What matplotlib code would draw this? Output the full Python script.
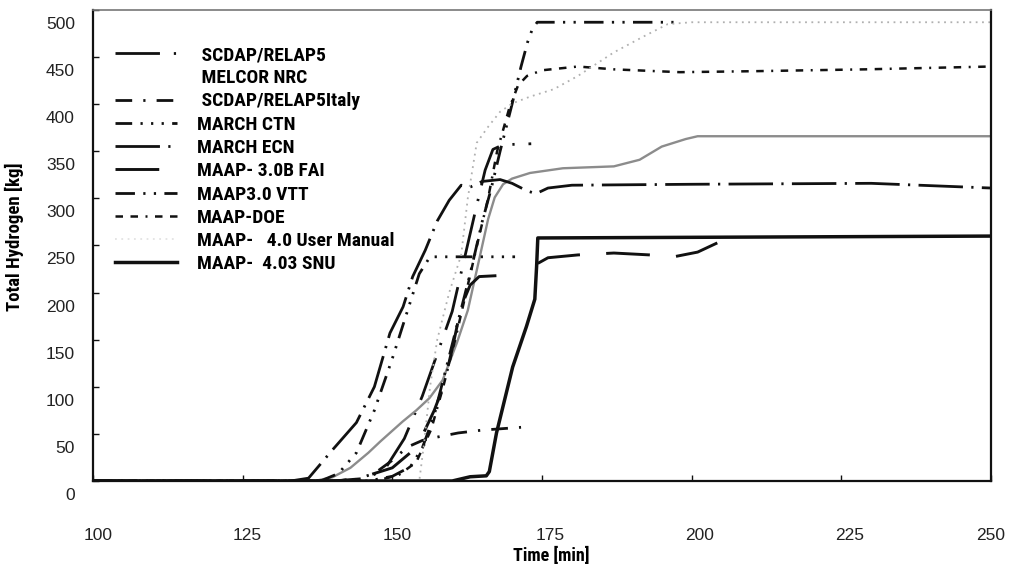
import numpy as np
import matplotlib
matplotlib.use("Agg")
import matplotlib.pyplot as plt
from matplotlib import font_manager as fm
from matplotlib.transforms import ScaledTranslation
from matplotlib.lines import Line2D

# ---------------- data ----------------
labels = [" SCDAP/RELAP5", " MELCOR NRC", " SCDAP/RELAP5Italy", "MARCH CTN",
          "MARCH ECN", "MAAP- 3.0B FAI", "MAAP3.0 VTT", "MAAP-DOE",
          "MAAP-   4.0 User Manual", "MAAP-  4.03 SNU"]

t_scdap = [100, 140, 146, 149, 152, 155, 157.5, 160, 162, 164, 165.5, 166.8, 168.5, 173.2]
h_scdap = [0, 0, 3, 15, 45, 90, 135, 180, 235, 290, 330, 352, 357, 358]

t_melcor = [100, 137, 140, 143, 146, 148, 151.7, 154, 156.2, 158.4, 160.8, 162.6, 164.5,
            166, 167.1, 168.5, 170, 173, 178.5, 187, 191.3, 195, 199, 201, 250]
h_melcor = [0, 0, 4, 14, 30, 42, 63, 75, 88, 107, 147, 181, 235,
            278, 301, 315, 321, 327, 332, 334, 341, 355, 363, 366, 366]

t_italy = [100, 143, 147, 150, 152.5, 155, 157, 161, 165, 171.5]
h_italy = [0, 0, 8, 22, 36, 43, 46, 51, 54, 57]

t_ctn = [100, 138, 141, 144, 147, 150, 152.5, 154.5, 156.3, 163, 170.5]
h_ctn = [0, 0, 8, 30, 75, 130, 180, 220, 238, 238, 238]

t_ecn = [100, 133, 136, 140, 144, 147, 149.6, 151.8, 153.4, 155.5, 157.5, 159.5, 161.5,
         163, 165, 168, 170, 172.5, 174, 176, 180, 200, 230, 250]
h_ecn = [0, 0, 3, 33, 62, 100, 157, 185, 217, 245, 276, 298, 314,
         312, 318, 320, 316, 308, 305, 311, 314, 315, 316, 311]

t_fai = [100, 141, 145, 150, 153, 155, 157, 158.5, 160, 161.5, 163, 164.5, 170.6, np.nan,
         174.3, 176, 181, 187, 193, 197, 201, 204.7]
h_fai = [0, 0, 4, 14, 30, 48, 75, 100, 140, 185, 208, 217, 219, np.nan,
         231, 237, 240, 242, 240, 238, 243, 254]

t_vtt = [100, 146, 150, 153, 155, 157, 159, 161, 163, 165, 166.5, 168, 170, 171.5,
         172.6, 173.4, 174.2, 197]
h_vtt = [0, 0, 5, 15, 35, 70, 120, 170, 220, 275, 310, 350, 400, 440, 466, 480, 487, 487]

t_doe = [100, 147, 151, 154, 156.5, 158.5, 160.5, 162.5, 164.5, 166, 167.5, 169.5, 171,
         172.5, 175, 181, 187, 198, 210, 229, 250]
h_doe = [0, 0, 6, 20, 55, 100, 150, 205, 260, 300, 350, 395, 420,
         430, 436, 440, 437, 434, 435, 437, 440]

t_um = [100, 154.5, 155.3, 156.3, 157.5, 159.5, 161.5, 162.6, 164.1, 166, 168, 170.1,
        173, 177, 181, 187, 192, 196, 200, 250]
h_um = [0, 0, 40, 100, 150, 200, 240, 300, 359, 376, 392, 401,
        408, 416, 430, 455, 472, 485, 487, 487]

t_snu = [100, 160, 163, 165.7, 166.2, 167.4, 170.1, 172.4, 173.8, 174.1, 174.3, 250]
h_snu = [0, 0, 4.5, 5.5, 10, 51, 121, 164, 193, 228, 258, 260]

x_ticks = [100, 125, 150, 175, 200, 225, 250]
y_ticks = [0, 50, 100, 150, 200, 250, 300, 350, 400, 450, 500]

# ---------------- styling ----------------
available = {f.name for f in fm.fontManager.ttflist}
def pick(*names):
    for n in names:
        if n in available:
            return n
    return "DejaVu Sans"

narrow = pick("Liberation Sans Narrow", "Roboto Condensed", "Liberation Sans", "Roboto")
regular = pick("Liberation Sans", "Roboto", "DejaVu Sans")

W, H = 1016, 572
fig = plt.figure(figsize=(W / 100, H / 100), dpi=100)
L, R, T, B = 93, 991, 10, 481
ax = fig.add_axes([L / W, 1 - B / H, (R - L) / W, (B - T) / H])

black = "#111111"
styles = [
    dict(color=black, lw=2.0, dashes=(16, 5, 0.8, 5)),                    # SCDAP/RELAP5
    dict(color="#8c8c8c", lw=1.7, ls="-"),                                # MELCOR NRC
    dict(color=black, lw=2.0, dashes=(6, 4, 0.8, 4)),                     # Italy
    dict(color=black, lw=2.0, dashes=(6, 3, 0.8, 3, 0.8, 3, 0.8, 3)),     # MARCH CTN
    dict(color=black, lw=2.0, dashes=(16, 3, 0.8, 3)),                    # MARCH ECN
    dict(color=black, lw=2.1, dashes=(15, 9)),                            # FAI
    dict(color=black, lw=2.0, dashes=(7, 3, 0.8, 3, 0.8, 3)),             # VTT
    dict(color=black, lw=1.8, dashes=(3, 3, 3, 3, 0.8, 3)),               # DOE
    dict(color="#b0b0b0", lw=1.3, dashes=(1, 2.5)),                       # UM
    dict(color=black, lw=2.5, ls="-"),                                    # SNU
]
series = [(t_scdap, h_scdap), (t_melcor, h_melcor), (t_italy, h_italy), (t_ctn, h_ctn),
          (t_ecn, h_ecn), (t_fai, h_fai), (t_vtt, h_vtt), (t_doe, h_doe),
          (t_um, h_um), (t_snu, h_snu)]

handles = []
for (t, h), st, lab in zip(series, styles, labels):
    ax.plot(t, h, solid_capstyle="butt", dash_capstyle="butt", **st)
    hd = Line2D([], [], **st)
    if "MELCOR" in lab:
        hd.set_alpha(0.0)
    if "User Manual" in lab:
        hd.set_alpha(0.35)
    handles.append(hd)

ax.set_xlim(100, 250)
ax.set_ylim(0, 500)
ax.set_xticks(x_ticks)
ax.set_yticks(y_ticks)
ax.tick_params(direction="in", length=4, width=1, color=black)
ax.tick_params(axis="y", pad=13)
ax.tick_params(axis="x", pad=34)
for sp in ["left", "bottom", "right"]:
    ax.spines[sp].set_linewidth(1.6)
    ax.spines[sp].set_color(black)
ax.spines["top"].set_linewidth(1.2)
ax.spines["top"].set_color("#777777")

for lbl in ax.get_yticklabels() + ax.get_xticklabels():
    lbl.set_fontfamily(regular)
    lbl.set_fontsize(12.5)
    lbl.set_color("#222222")
for tk in ax.yaxis.get_major_ticks():
    tk.label1.set_transform(tk.label1.get_transform() +
                            ScaledTranslation(0, -13 / 100, fig.dpi_scale_trans))
x_label_shift_px = [5, 5, 5, 8, 8, 8, 0]
for tk, dx in zip(ax.xaxis.get_major_ticks(), x_label_shift_px):
    tk.label1.set_transform(tk.label1.get_transform() +
                            ScaledTranslation(dx / 100, 0, fig.dpi_scale_trans))

ax.set_ylabel("Total Hydrogen [kg]", fontfamily=narrow, fontweight="bold", fontsize=13.5)
ax.yaxis.set_label_coords((24 - L) / (R - L), (B - 237) / (B - T))
ax.set_xlabel("Time [min]", fontfamily=narrow, fontweight="bold", fontsize=13)
ax.xaxis.set_label_coords((551 - L) / (R - L), (B - 556) / (B - T))
ax.xaxis.label.set_va("center")

ax.legend(handles, labels, loc="upper left",
          bbox_to_anchor=((115 - L) / (R - L), (B - 46) / (B - T)),
          frameon=False, borderpad=0, borderaxespad=0,
          handlelength=3.2, handletextpad=1.0, labelspacing=0.27,
          prop=dict(family=narrow, weight="bold", size=14))

fig.savefig("out.png", dpi=100, facecolor="white")
